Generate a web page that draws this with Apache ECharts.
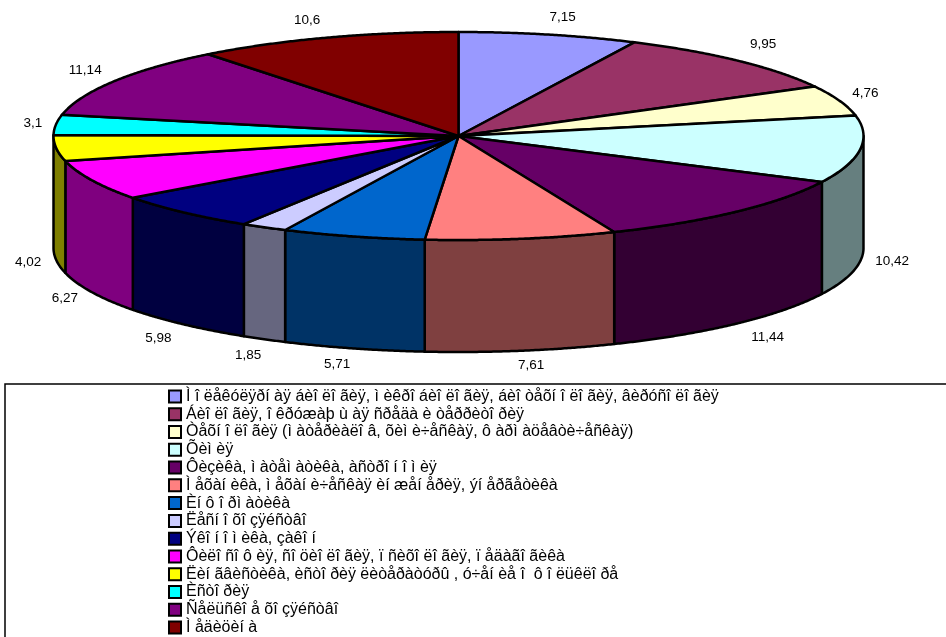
<!DOCTYPE html>
<html>
<head>
<meta charset="utf-8">
<style>html,body{margin:0;padding:0;background:#fff}#chart{width:946px;height:637px}</style>
<script src="https://cdn.jsdelivr.net/npm/echarts@6/dist/echarts.min.js"></script>
</head>
<body>
<div id="chart"></div>
<script>
// Slices in clockwise order from twelve o'clock.
const categories = [
  'Ì î ëåêóëÿðí àÿ áèî ëî ãèÿ, ì èêðî áèî ëî ãèÿ, áèî òåõí î ëî ãèÿ, âèðóñî ëî ãèÿ',
  'Áèî ëî ãèÿ, î êðóæàþ ù àÿ ñðåäà è òåððèòî ðèÿ',
  'Òåõí î ëî ãèÿ (ì àòåðèàëî â, õèì è÷åñêàÿ, ô àðì àöåâòè÷åñêàÿ)',
  'Õèì èÿ',
  'Ôèçèêà, ì àòåì àòèêà, àñòðî í î ì èÿ',
  'Ì åõàí èêà, ì åõàí è÷åñêàÿ èí æåí åðèÿ, ýí åðãåòèêà',
  'Èí ô î ðì àòèêà',
  'Ëåñí î õî çÿéñòâî',
  'Ýêî í î ì èêà, çàêî í',
  'Ôèëî ñî ô èÿ, ñî öèî ëî ãèÿ, ï ñèõî ëî ãèÿ, ï åäàãî ãèêà',
  'Ëèí ãâèñòèêà, èñòî ðèÿ ëèòåðàòóðû , ó÷åí èå î  ô î ëüêëî ðå',
  'Èñòî ðèÿ',
  'Ñåëüñêî å õî çÿéñòâî',
  'Ì åäèöèí à'
];
const values = [7.15, 9.95, 4.76, 10.42, 11.44, 7.61, 5.71, 1.85, 5.98, 6.27, 4.02, 3.1, 11.14, 10.6];
const valueLabels = ['7,15', '9,95', '4,76', '10,42', '11,44', '7,61', '5,71', '1,85', '5,98', '6,27', '4,02', '3,1', '11,14', '10,6'];
const colors = ['#9999FF', '#993366', '#FFFFCC', '#CCFFFF', '#660066', '#FF8080', '#0066CC',
                '#CCCCFF', '#000080', '#FF00FF', '#FFFF00', '#00FFFF', '#800080', '#800000'];

// Projected disc: ellipse centre and radii, plus the height of the rim.
const disc = { cx: 458.5, cy: 136, rx: 405, ry: 104, depth: 112 };
// Distance of each value label from the rim point at its slice's mid angle.
const labelOffsets = [[14, -17], [25, -16], [26, -7], [32, 0], [32, 13], [10, 15], [-16, 16],
                      [-16, 16], [-25, 14], [-27, 6], [-28, 2], [-23, -2], [-29, -11], [-19, -17]];

const total = values.reduce((a, b) => a + b, 0);
const starts = [];
values.reduce((acc, v, i) => { starts[i] = acc; return acc + v; }, 0);
const toAngle = v => v / total * 2 * Math.PI;
const rimPoint = (a, drop) => [
  disc.cx + disc.rx * Math.sin(a),
  disc.cy - disc.ry * Math.cos(a) + (drop || 0)
];
function arc(a0, a1, drop) {
  const n = Math.max(2, Math.ceil((a1 - a0) / 0.005));
  const pts = [];
  for (let k = 0; k <= n; k++) pts.push(rimPoint(a0 + (a1 - a0) * k / n, drop));
  return pts;
}
const shade = hex => '#' + [1, 3, 5].map(i =>
  Math.floor(parseInt(hex.substr(i, 2), 16) / 2).toString(16).padStart(2, '0')).join('');
const outline = { stroke: '#000', lineWidth: 2.5, lineJoin: 'round' };

function renderSlice(i) {
  const a0 = toAngle(starts[i]);
  const a1 = toAngle(starts[i] + values[i]);
  const mid = (a0 + a1) / 2;
  const children = [];
  // The rim is only visible along the front half of the disc.
  const w0 = Math.max(a0, Math.PI / 2);
  const w1 = Math.min(a1, Math.PI * 1.5);
  if (w1 > w0) {
    children.push({
      type: 'polygon', z2: 1,
      shape: { points: arc(w0, w1, 0).concat(arc(w0, w1, disc.depth).reverse()) },
      style: Object.assign({ fill: shade(colors[i]) }, outline)
    });
  }
  children.push({
    type: 'polygon', z2: 2,
    shape: { points: [[disc.cx, disc.cy]].concat(arc(a0, a1, 0)) },
    style: Object.assign({ fill: colors[i] }, outline)
  });
  const onFront = mid > Math.PI / 2 && mid < Math.PI * 1.5;
  const anchor = rimPoint(mid, onFront ? disc.depth : 0);
  children.push({
    type: 'text', z2: 3,
    x: anchor[0] + labelOffsets[i][0],
    y: anchor[1] + labelOffsets[i][1],
    style: {
      text: valueLabels[i], fill: '#000', align: 'center', verticalAlign: 'middle',
      font: '13.5px "Liberation Sans", Arial, sans-serif'
    }
  });
  return { type: 'group', children };
}

const chart = echarts.init(document.getElementById('chart'), null, { renderer: 'canvas' });
chart.setOption({
  animation: false,
  backgroundColor: '#fff',
  legend: {
    orient: 'vertical',
    left: 168,
    top: 388.5,
    padding: 0,
    icon: 'rect',
    itemWidth: 12,
    itemHeight: 12,
    itemGap: 1.77,
    selectedMode: false,
    itemStyle: { borderColor: '#000', borderWidth: 2 },
    textStyle: { color: '#000', fontSize: 16, fontFamily: '"Liberation Sans", Arial, sans-serif' },
    data: categories
  },
  graphic: [{
    type: 'rect', z: -1, silent: true,
    shape: { x: 5, y: 384, width: 950, height: 260 },
    style: { fill: '#fff', stroke: '#000', lineWidth: 1.5 }
  }],
  series: categories.map((name, i) => ({
    type: 'custom',
    name,
    coordinateSystem: 'none',
    silent: true,
    itemStyle: { color: colors[i] },
    data: [values[i]],
    renderItem: () => renderSlice(i)
  }))
});
</script>
</body>
</html>
